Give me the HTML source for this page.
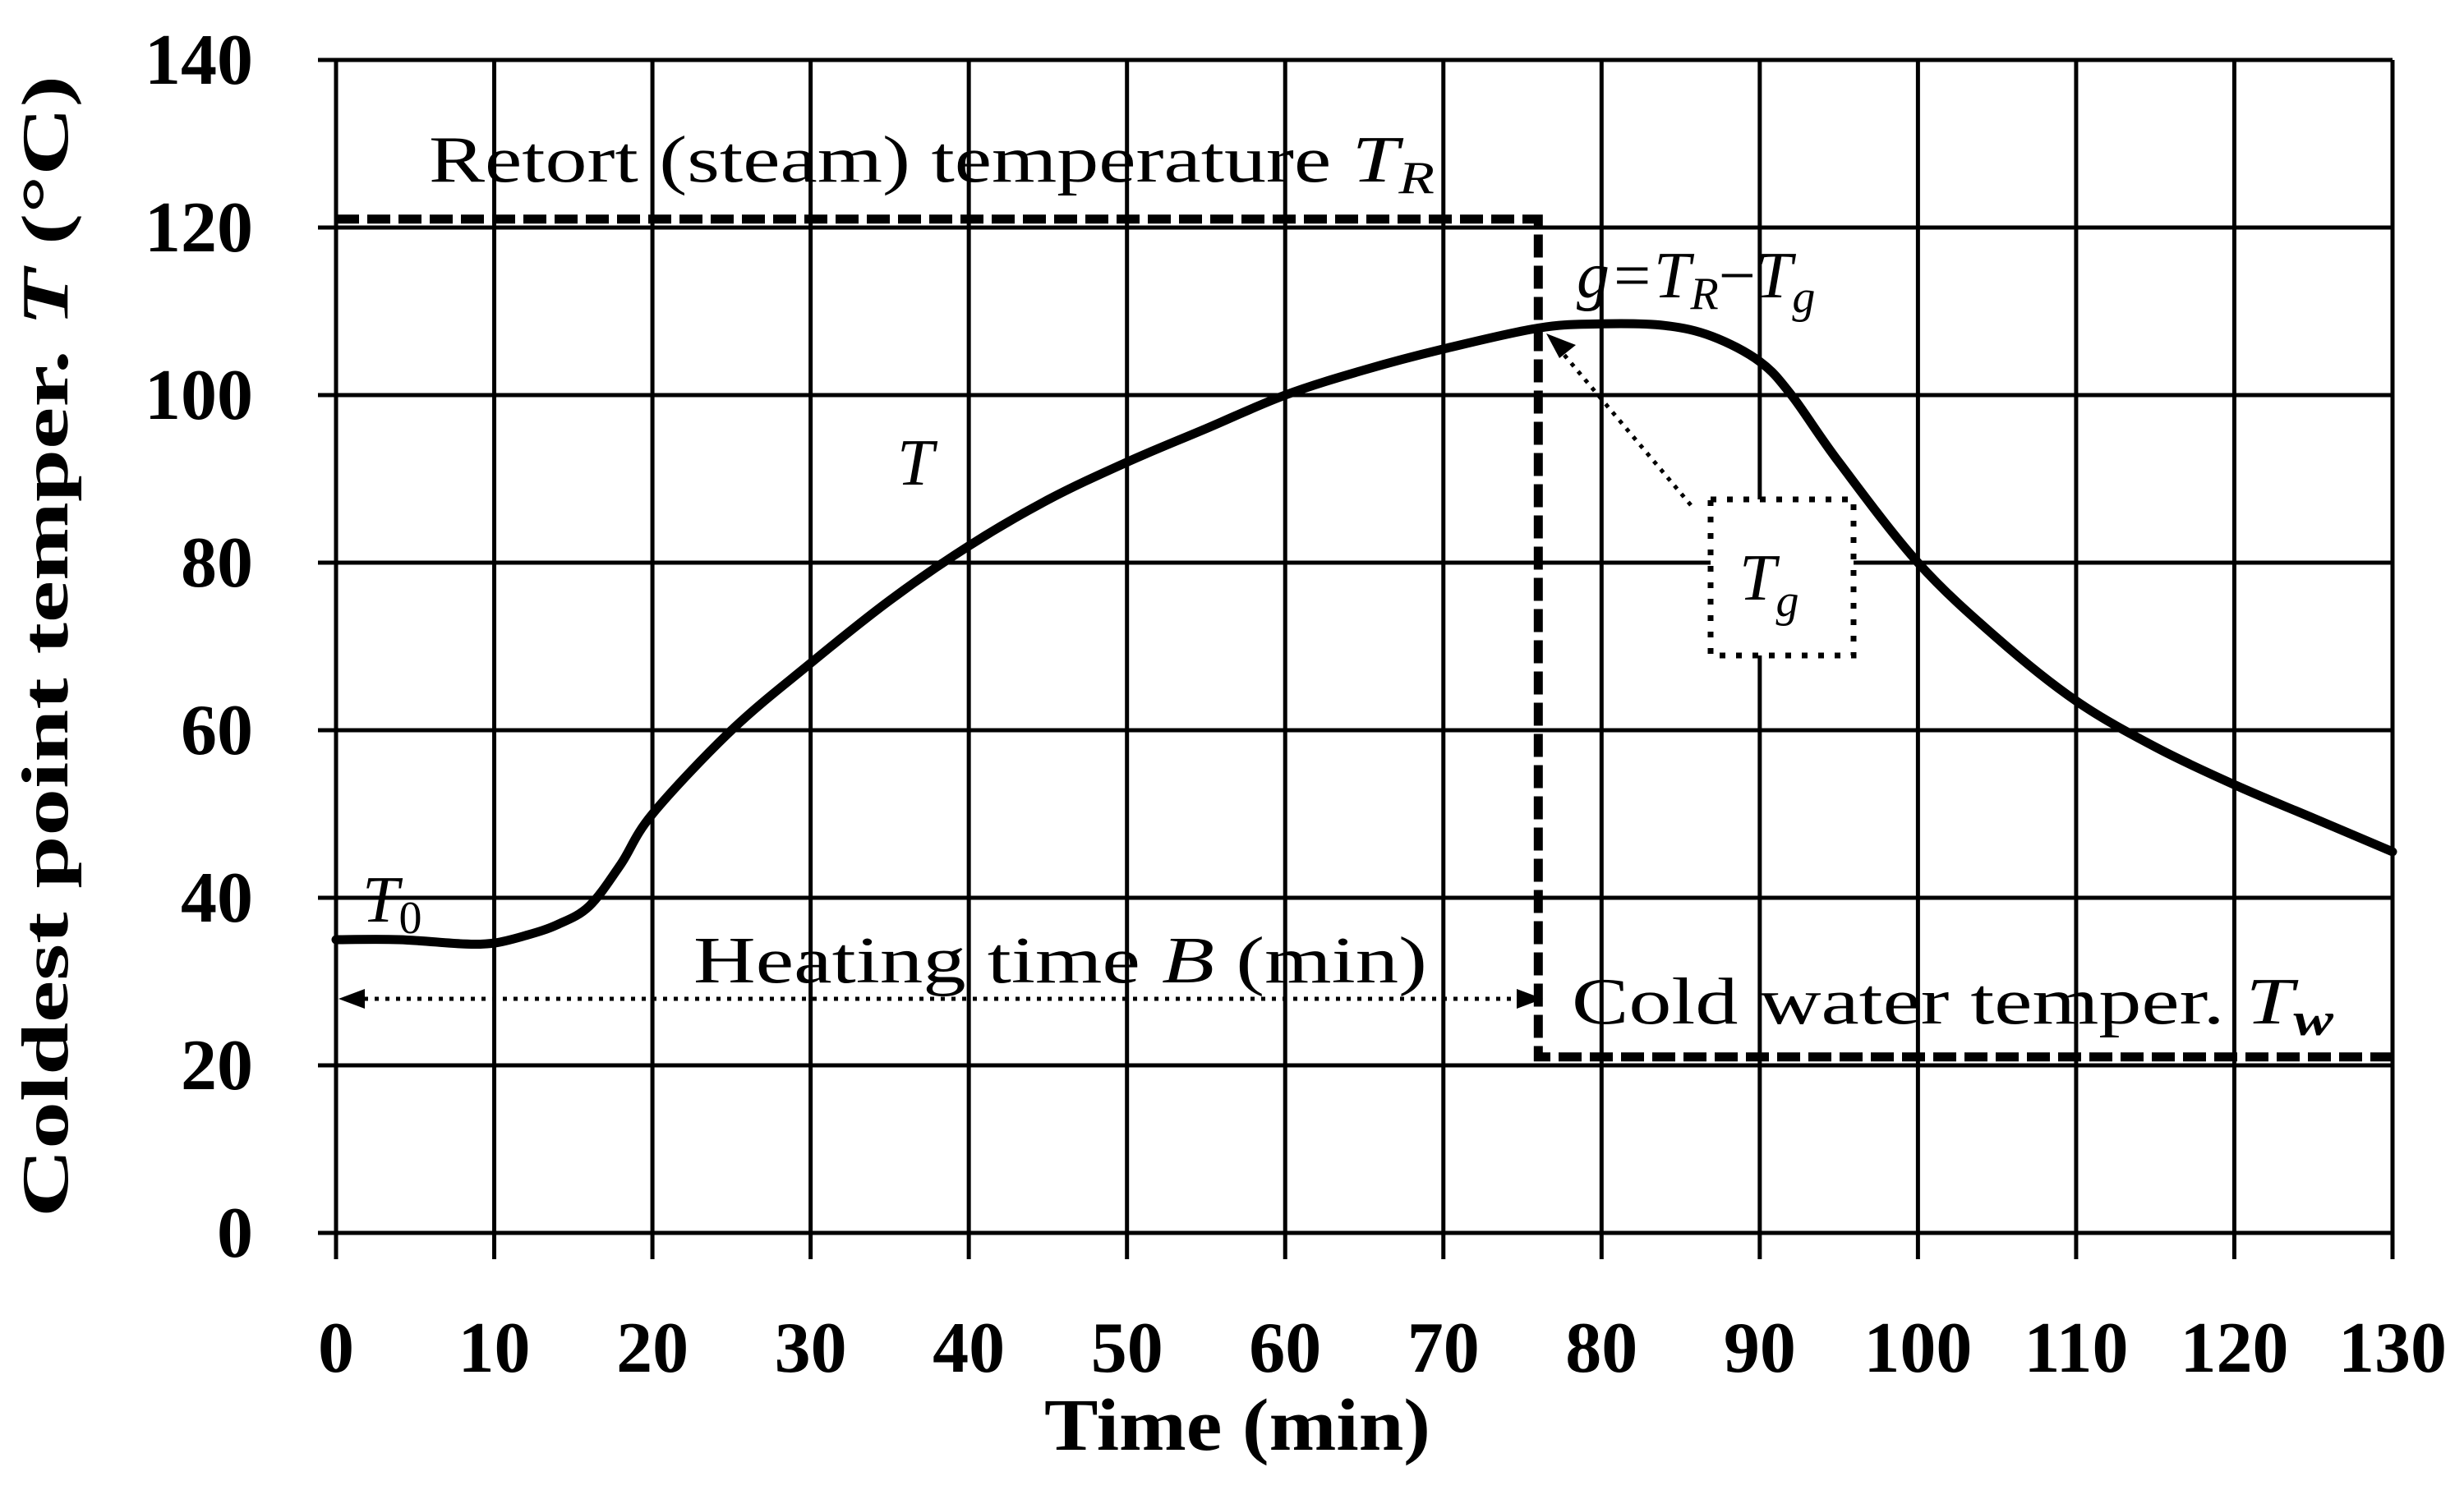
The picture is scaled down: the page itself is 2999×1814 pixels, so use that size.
<!DOCTYPE html>
<html><head><meta charset="utf-8"><style>
html,body{margin:0;padding:0;background:#fff;}
svg{display:block;font-family:"Liberation Serif",serif;}
</style></head><body>
<svg id="chart" width="2999" height="1814" viewBox="0 0 2999 1814" xmlns="http://www.w3.org/2000/svg">
<g id="grid"></g>
<g id="ticklabels"></g>
<g id="series"></g>
<g id="annot">
  <text x="522" y="221" font-size="80" textLength="1224" lengthAdjust="spacingAndGlyphs">Retort (steam) temperature <tspan font-style="italic">T</tspan><tspan font-style="italic" font-size="56" dy="14">R</tspan></text>
  <text x="1919" y="362" font-size="80" font-style="italic">g=T<tspan font-size="56" dy="14">R</tspan><tspan dy="-14" font-style="normal">−</tspan>T<tspan font-size="56" dy="18">g</tspan></text>
  <text x="1092" y="590" font-size="80" font-style="italic">T</text>
  <text x="441" y="1122" font-size="80" font-style="italic">T<tspan font-style="normal" font-size="56" dy="14">0</tspan></text>
  <text x="844" y="1196" font-size="80" textLength="893" lengthAdjust="spacingAndGlyphs">Heating  time <tspan font-style="italic">B</tspan> (min)</text>
  <text x="1913" y="1246" font-size="80" textLength="927" lengthAdjust="spacingAndGlyphs">Cold water temper. <tspan font-style="italic">T</tspan><tspan font-style="italic" font-weight="bold" font-size="56" dy="14">w</tspan></text>
  <rect x="2082" y="608" width="174" height="190" fill="#fff" stroke="#000" stroke-width="7" stroke-dasharray="7 13"/>
  <text x="2117" y="730" font-size="80" font-style="italic">T<tspan font-size="56" dy="20">g</tspan></text>
  <line x1="2058" y1="615" x2="1892" y2="418" stroke="#000" stroke-width="5" stroke-dasharray="5 8"/>
  <polygon points="1882,406 1918,420 1898,436" fill="#000"/>
  <line x1="430" y1="1216" x2="1860" y2="1216" stroke="#000" stroke-width="5" stroke-dasharray="5 8"/>
  <polygon points="412,1216 444,1204 444,1228" fill="#000"/>
  <polygon points="1878,1216 1846,1204 1846,1228" fill="#000"/>
</g>
<text x="1506" y="1765" font-size="90" font-weight="bold" text-anchor="middle" textLength="470" lengthAdjust="spacingAndGlyphs">Time (min)</text>
<text transform="translate(82,787) rotate(-90)" font-size="80" font-weight="bold" text-anchor="middle" textLength="1390" lengthAdjust="spacingAndGlyphs">Coldest  point  temper. <tspan font-style="italic">T</tspan> (°C)</text>
</svg>
<script>
const xTicks=[0,10,20,30,40,50,60,70,80,90,100,110,120,130];
const yTicks=[0,20,40,60,80,100,120,140];
const curveTime=[0,4,8,10,12,14,16,18,20,25,30,35,40,45,50,55,60,65,70,76,80,84,87,90,92,95,100,105,110,115,120,125,130];
const curveTemp=[35,35,34.5,34.6,35.5,36.8,39,44,50,60,68,75.5,82,87.5,92,96,100,103,105.5,108,108.5,108.3,107,104,100,92,80,71,63.5,58,53.5,49.5,45.5];
const retortTime=[0,76,76,130];
const retortTemp=[121,121,21,21];
const X0=409,X1=2912,Y0=1501,Y1=73;
const sx=v=>X0+(v-0)/(130-0)*(X1-X0);
const sy=v=>Y0-(v-0)/(140-0)*(Y0-Y1);
const NS="http://www.w3.org/2000/svg";
function mk(t,a,p){const e=document.createElementNS(NS,t);for(const k in a)e.setAttribute(k,a[k]);p.appendChild(e);return e;}
const grid=document.getElementById('grid'),tl=document.getElementById('ticklabels'),ser=document.getElementById('series');
yTicks.forEach(v=>{
  const l=mk('line',{x1:X0-22,x2:X1,y1:sy(v),y2:sy(v),stroke:'#000','stroke-width':5},grid);
  
  
  const t=mk('text',{x:308,y:sy(v)+29,'font-size':88,'font-weight':'bold','text-anchor':'end'},tl);
  t.textContent=v;
  
  
});
xTicks.forEach(v=>{
  const l=mk('line',{x1:sx(v),x2:sx(v),y1:Y1,y2:Y0+32,stroke:'#000','stroke-width':5},grid);
  
  
  const t=mk('text',{x:sx(v),y:1670,'font-size':88,'font-weight':'bold','text-anchor':'middle'},tl);
  t.textContent=v;
  
  
});
const P=curveTime.map((t,i)=>[sx(t),sy(curveTemp[i])]);
let d='M'+P[0][0].toFixed(1)+','+P[0][1].toFixed(1);
for(let i=0;i<P.length-1;i++){
  const p0=P[Math.max(0,i-1)],p1=P[i],p2=P[i+1],p3=P[Math.min(P.length-1,i+2)];
  const c1=[p1[0]+(p2[0]-p0[0])/6,p1[1]+(p2[1]-p0[1])/6];
  const c2=[p2[0]-(p3[0]-p1[0])/6,p2[1]-(p3[1]-p1[1])/6];
  d+='C'+c1[0].toFixed(1)+','+c1[1].toFixed(1)+' '+c2[0].toFixed(1)+','+c2[1].toFixed(1)+' '+p2[0].toFixed(1)+','+p2[1].toFixed(1);
}
const c=mk('path',{d:d,fill:'none',stroke:'#000','stroke-width':11,'stroke-linejoin':'round','stroke-linecap':'round'},ser);


let d2='';
retortTime.forEach((t,i)=>{d2+=(i?'L':'M')+sx(t).toFixed(1)+','+sy(retortTemp[i]).toFixed(1);});
const r=mk('path',{d:d2,fill:'none',stroke:'#000','stroke-width':11,'stroke-dasharray':'28 10'},ser);


</script>
</body></html>
